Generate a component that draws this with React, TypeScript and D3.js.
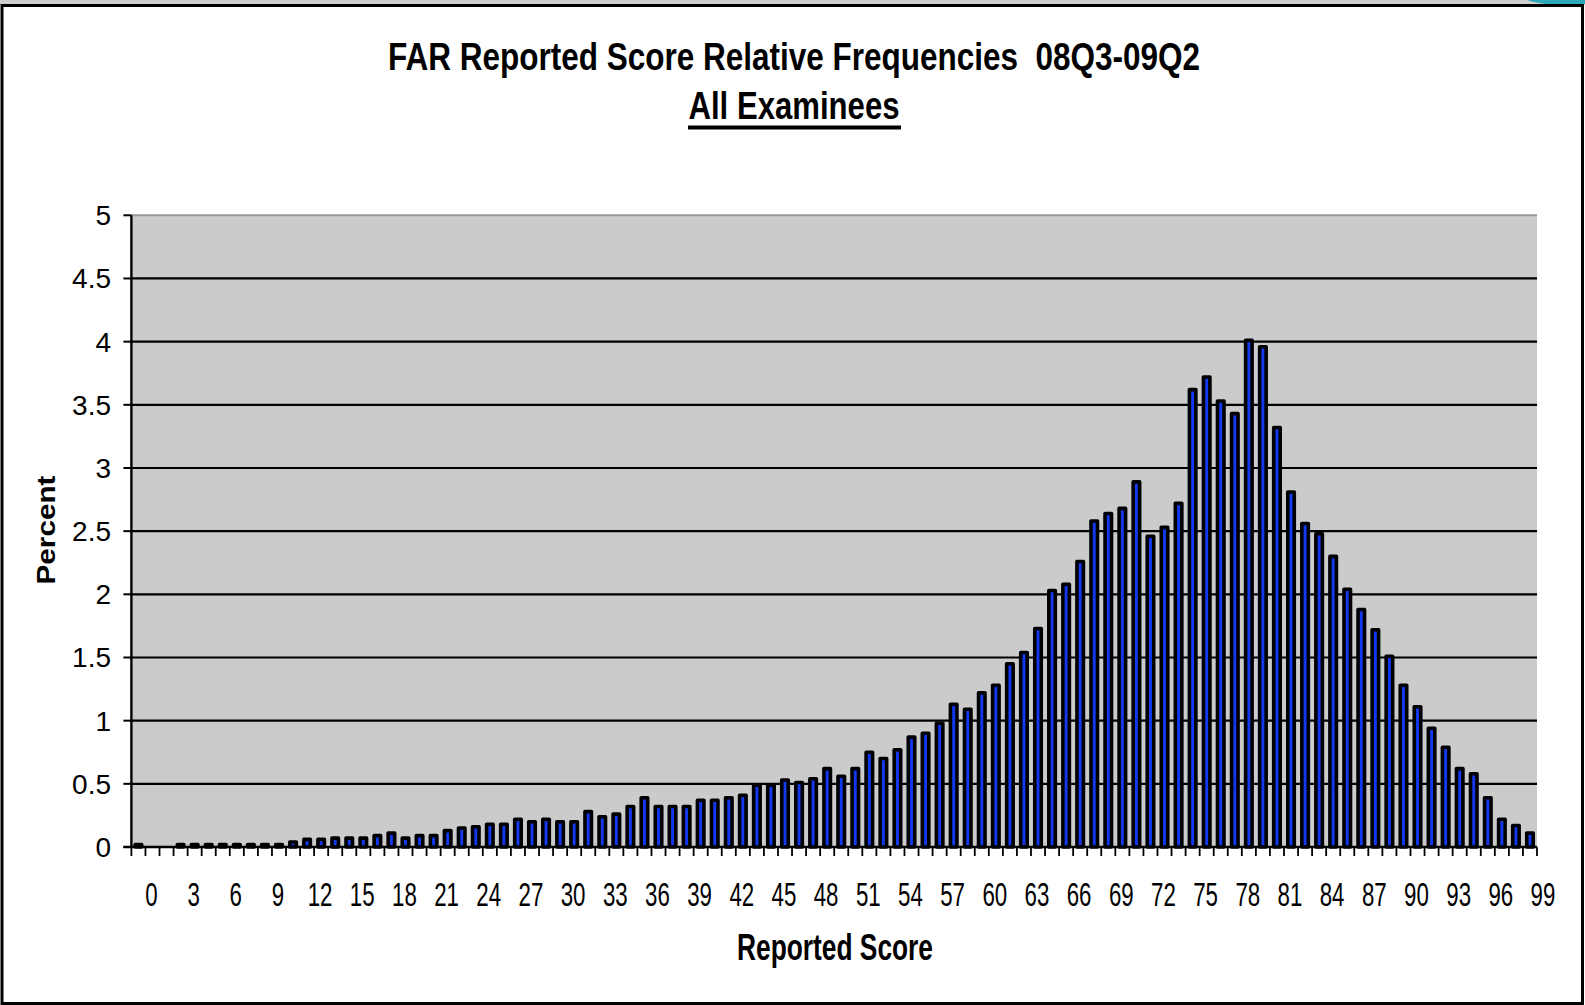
import { useEffect, useRef } from "react";
import * as d3 from "d3";

// Reported scores 0..99 (one bar each)
const scores: number[] = d3.range(0, 100);

// Percent of examinees per reported score
const percents: number[] = [
  0.02, 0, 0, 0.02, 0.02, 0.02, 0.02, 0.02, 0.02, 0.02,
  0.02, 0.04, 0.06, 0.06, 0.07, 0.07, 0.07, 0.09, 0.11, 0.07,
  0.09, 0.09, 0.13, 0.15, 0.16, 0.18, 0.18, 0.22, 0.2, 0.22,
  0.2, 0.2, 0.28, 0.24, 0.26, 0.32, 0.39, 0.32, 0.32, 0.32,
  0.37, 0.37, 0.39, 0.41, 0.49, 0.49, 0.53, 0.51, 0.54, 0.62,
  0.56, 0.62, 0.75, 0.7, 0.77, 0.87, 0.9, 0.98, 1.13, 1.09,
  1.22, 1.28, 1.45, 1.54, 1.73, 2.03, 2.08, 2.26, 2.58, 2.64,
  2.68, 2.89, 2.46, 2.53, 2.72, 3.62, 3.72, 3.53, 3.43, 4.01,
  3.96, 3.32, 2.81, 2.56, 2.48, 2.3, 2.04, 1.88, 1.72, 1.51,
  1.28, 1.11, 0.94, 0.79, 0.62, 0.58, 0.39, 0.22, 0.17, 0.11,
];

// Every third score gets a label
const xTickLabels: number[] = [
  0, 3, 6, 9, 12, 15, 18, 21, 24, 27, 30, 33, 36, 39, 42, 45, 48,
  51, 54, 57, 60, 63, 66, 69, 72, 75, 78, 81, 84, 87, 90, 93, 96, 99,
];
const yTicks: number[] = [0, 0.5, 1, 1.5, 2, 2.5, 3, 3.5, 4, 4.5, 5];

const WIDTH = 1585;
const HEIGHT = 1005;
const plot = { left: 131.4, right: 1537, top: 215.3, bottom: 847 };
const FONT = "'Liberation Sans', Arial, sans-serif";

export default function App() {
  const svgRef = useRef<SVGSVGElement | null>(null);

  useEffect(() => {
    document.body.style.margin = "0";
    document.body.style.overflow = "hidden";
    if (!svgRef.current) return;

    const svg = d3.select(svgRef.current);
    svg.selectAll("*").remove();

    const x = d3.scaleBand<number>().domain(scores).range([plot.left, plot.right]);
    const y = d3.scaleLinear().domain([0, 5]).range([plot.bottom, plot.top]);

    // page background + slide frame
    svg.append("rect").attr("width", WIDTH).attr("height", HEIGHT).attr("fill", "#fff");
    svg.append("rect").attr("x", 0).attr("y", 0).attr("width", WIDTH).attr("height", 5).attr("fill", "#cfcfcf");
    svg.append("path")
      .attr("d", "M1527,0 Q1540,5 1560,4 L1585,4 L1585,0 Z")
      .attr("fill", "#2aa9b9");
    svg.append("rect")
      .attr("x", 2).attr("y", 5.5).attr("width", WIDTH - 4.5).attr("height", HEIGHT - 7)
      .attr("fill", "none").attr("stroke", "#000").attr("stroke-width", 3);

    // titles (condensed look: tall glyphs squeezed to the original widths)
    svg.append("text")
      .attr("x", 794).attr("y", 70)
      .attr("text-anchor", "middle")
      .attr("font-family", FONT)
      .attr("font-weight", "bold").attr("font-size", 38)
      .attr("textLength", 812).attr("lengthAdjust", "spacingAndGlyphs")
      .attr("xml:space", "preserve")
      .text("FAR Reported Score Relative Frequencies  08Q3-09Q2");
    svg.append("text")
      .attr("x", 794).attr("y", 119)
      .attr("text-anchor", "middle")
      .attr("font-family", FONT)
      .attr("font-weight", "bold").attr("font-size", 39)
      .attr("textLength", 211).attr("lengthAdjust", "spacingAndGlyphs")
      .text("All Examinees");
    svg.append("rect").attr("x", 688).attr("y", 125.5).attr("width", 213).attr("height", 4).attr("fill", "#000");

    // plot area
    svg.append("rect")
      .attr("x", plot.left).attr("y", plot.top)
      .attr("width", plot.right - plot.left).attr("height", plot.bottom - plot.top)
      .attr("fill", "#cbcbcb");
    svg.append("line")
      .attr("x1", plot.left).attr("x2", plot.right)
      .attr("y1", plot.top).attr("y2", plot.top)
      .attr("stroke", "#9a9a9a").attr("stroke-width", 2);

    // gridlines (black, like the original)
    svg.append("g")
      .selectAll("line")
      .data(yTicks.filter((t) => t > 0 && t < 5))
      .join("line")
      .attr("x1", plot.left).attr("x2", plot.right)
      .attr("y1", (d) => y(d)).attr("y2", (d) => y(d))
      .attr("stroke", "#000").attr("stroke-width", 2.2);

    // bars
    const barW = 6.5;
    svg.append("g")
      .selectAll("rect")
      .data(scores.filter((s) => percents[s] > 0))
      .join("rect")
      .attr("x", (s) => (x(s) as number) + x.bandwidth() / 2 - barW / 2)
      .attr("y", (s) => y(percents[s]))
      .attr("width", barW)
      .attr("height", (s) => plot.bottom - y(percents[s]))
      .attr("fill", "#1238f0")
      .attr("stroke", "#000")
      .attr("stroke-width", 3.6)
      .attr("stroke-linejoin", "round");

    // y axis
    const yAxis = svg.append("g");
    yAxis.append("line")
      .attr("x1", plot.left).attr("x2", plot.left)
      .attr("y1", plot.top).attr("y2", plot.bottom)
      .attr("stroke", "#000").attr("stroke-width", 2.4);
    yAxis.selectAll("line.tick")
      .data(yTicks)
      .join("line")
      .attr("class", "tick")
      .attr("x1", plot.left - 8).attr("x2", plot.left)
      .attr("y1", (d) => y(d)).attr("y2", (d) => y(d))
      .attr("stroke", "#000").attr("stroke-width", 2);
    yAxis.selectAll("text")
      .data(yTicks)
      .join("text")
      .attr("x", 111)
      .attr("y", (d) => y(d) + 10)
      .attr("text-anchor", "end")
      .attr("font-family", FONT)
      .attr("font-size", 28)
      .attr("fill", "#000")
      .text((d) => d3.format("~g")(d));

    svg.append("text")
      .attr("transform", "translate(55,530) rotate(-90)")
      .attr("text-anchor", "middle")
      .attr("font-family", FONT)
      .attr("font-weight", "bold").attr("font-size", 26)
      .attr("textLength", 109).attr("lengthAdjust", "spacingAndGlyphs")
      .text("Percent");

    // x axis
    const xAxis = svg.append("g");
    xAxis.append("line")
      .attr("x1", plot.left - 8).attr("x2", plot.right)
      .attr("y1", plot.bottom).attr("y2", plot.bottom)
      .attr("stroke", "#000").attr("stroke-width", 2.6);
    xAxis.selectAll("line.tick")
      .data(d3.range(0, scores.length + 1))
      .join("line")
      .attr("class", "tick")
      .attr("x1", (i) => plot.left + i * x.step())
      .attr("x2", (i) => plot.left + i * x.step())
      .attr("y1", plot.bottom).attr("y2", plot.bottom + 9)
      .attr("stroke", "#000").attr("stroke-width", 1.8);
    xAxis.selectAll("text")
      .data(xTickLabels)
      .join("text")
      .attr("x", (s) => (x(s) as number) + x.bandwidth() / 2 + 13)
      .attr("y", 906)
      .attr("text-anchor", "middle")
      .attr("font-family", FONT)
      .attr("font-size", 34)
      .attr("textLength", (s) => String(s).length * 12.4)
      .attr("lengthAdjust", "spacingAndGlyphs")
      .text((s) => String(s));

    svg.append("text")
      .attr("x", 835).attr("y", 960)
      .attr("text-anchor", "middle")
      .attr("font-family", FONT)
      .attr("font-weight", "bold").attr("font-size", 36)
      .attr("textLength", 196).attr("lengthAdjust", "spacingAndGlyphs")
      .text("Reported Score");
  }, []);

  return <svg ref={svgRef} width={WIDTH} height={HEIGHT} style={{ display: "block" }} />;
}
